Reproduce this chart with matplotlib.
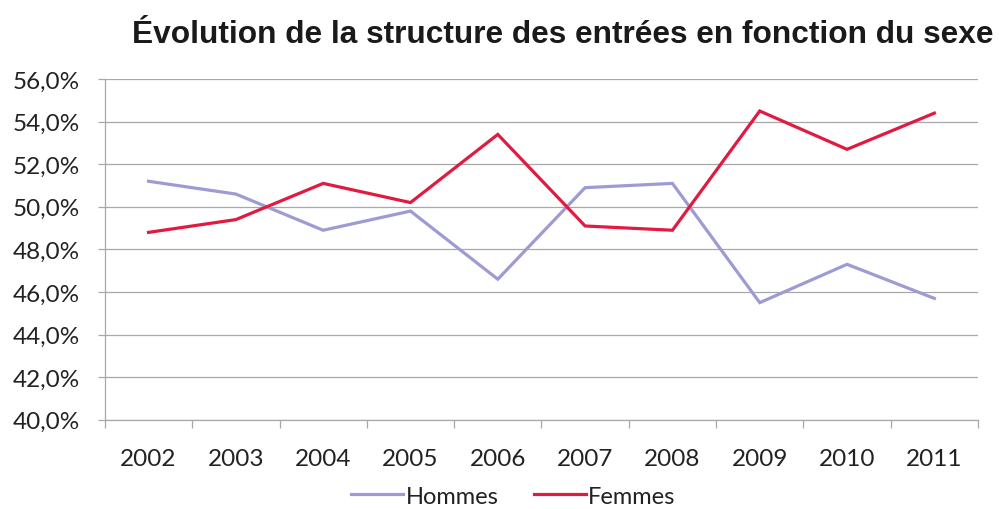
import matplotlib.pyplot as plt
from matplotlib.ticker import FuncFormatter

annees = ['2002', '2003', '2004', '2005', '2006', '2007', '2008', '2009', '2010', '2011']
hommes = [51.2, 50.6, 48.9, 49.8, 46.6, 50.9, 51.1, 45.5, 47.3, 45.7]
femmes = [48.8, 49.4, 51.1, 50.2, 53.4, 49.1, 48.9, 54.5, 52.7, 54.4]

fig = plt.figure(figsize=(9.99, 5.10), dpi=100)
ax = fig.add_axes([0.105, 0.175, 0.874, 0.668])

x = range(len(annees))
ax.plot(x, hommes, color='#9e9bd4', linewidth=2.3, label='Hommes', solid_joinstyle='miter')
ax.plot(x, femmes, color='#e01a40', linewidth=2.3, label='Femmes', solid_joinstyle='miter')

ax.set_xlim(-0.5, len(annees) - 0.5)
ax.set_ylim(40, 56)
ax.set_yticks(range(40, 57, 2))
ax.yaxis.set_major_formatter(FuncFormatter(lambda v, p: f'{v:.1f}%'.replace('.', ',')))
ax.yaxis.grid(True, color='#a8a8a8', linewidth=0.9)
ax.set_axisbelow(True)

# category labels in the middle, tick marks on the boundaries
ax.set_xticks(list(x))
ax.set_xticklabels(annees)
ax.tick_params(axis='x', length=0, pad=20)
ax.set_xticks([i - 0.5 for i in range(len(annees) + 1)], minor=True)
ax.tick_params(axis='x', which='minor', length=6, color='#a8a8a8', width=0.9)
ax.tick_params(axis='y', length=5, color='#a8a8a8', width=0.9, pad=13)

for lab in ax.get_xticklabels() + ax.get_yticklabels():
    lab.set_fontfamily('Lato')
    lab.set_fontsize(17.5)
    lab.set_color('#222222')

for s in ['top', 'right']:
    ax.spines[s].set_visible(False)
for s in ['left', 'bottom']:
    ax.spines[s].set_color('#a8a8a8')
    ax.spines[s].set_linewidth(0.9)

fig.text(0.563, 0.931, 'Évolution de la structure des entrées en fonction du sexe',
         ha='center', va='center', fontsize=22.8, fontweight='bold',
         family='Liberation Sans', color='#1a1a1a')

leg = fig.legend(loc='center', bbox_to_anchor=(0.514, 0.025), ncol=2, frameon=False,
                 prop={'family': 'Lato', 'size': 17}, handlelength=2.2,
                 handletextpad=0.1, columnspacing=1.5)
for t in leg.get_texts():
    t.set_color('#222222')

fig.savefig('out.png', dpi=100)
